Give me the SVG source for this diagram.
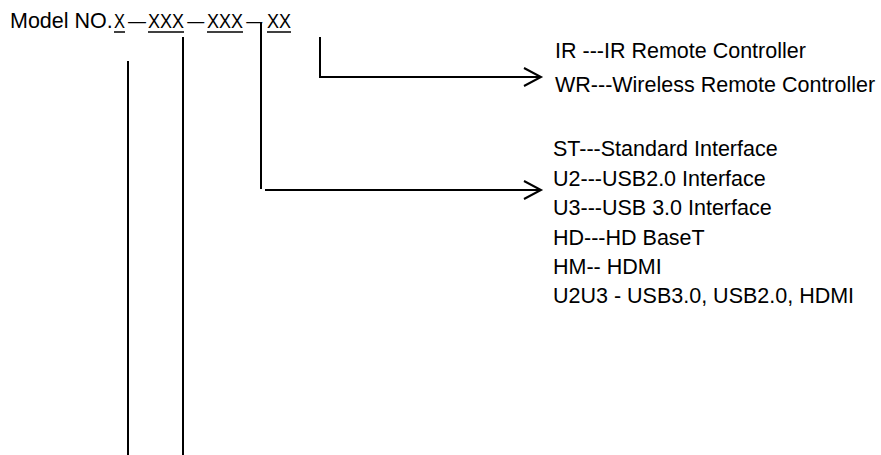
<svg xmlns="http://www.w3.org/2000/svg" width="881" height="455" viewBox="0 0 881 455">
<style>
text{font-family:"Liberation Sans",Arial,sans-serif;font-size:21.5px;fill:#000}
.x{font-size:19.5px}
.ln{stroke:#000;stroke-width:2;fill:none}
.ul{stroke:#000;stroke-width:1.5}
</style>
<defs>
<marker id="arr" markerUnits="userSpaceOnUse" markerWidth="24" markerHeight="24" viewBox="-20 -12 24 24" refX="0" refY="0" orient="auto">
<path d="M-17,-9 L0,0 L-17,9" fill="none" stroke="#000" stroke-width="2"/>
</marker>
</defs>
<rect width="881" height="455" fill="#fff"/>
<g id="title">
<text y="28"><tspan x="10">Model NO.</tspan><tspan class="x" x="114" textLength="11" lengthAdjust="spacingAndGlyphs">X</tspan><tspan class="x" x="128" textLength="18" lengthAdjust="spacingAndGlyphs">—</tspan><tspan class="x" x="148" textLength="36" lengthAdjust="spacingAndGlyphs">XXX</tspan><tspan class="x" x="187.3" textLength="17" lengthAdjust="spacingAndGlyphs">—</tspan><tspan class="x" x="207" textLength="36" lengthAdjust="spacingAndGlyphs">XXX</tspan><tspan class="x" x="246.2" textLength="16" lengthAdjust="spacingAndGlyphs">—</tspan><tspan class="x" x="267" textLength="24" lengthAdjust="spacingAndGlyphs">XX</tspan></text>
<line class="ul" x1="114" y1="32" x2="125" y2="32"/>
<line class="ul" x1="148" y1="32" x2="184" y2="32"/>
<line class="ul" x1="207" y1="32" x2="243" y2="32"/>
<line class="ul" x1="267" y1="32" x2="291" y2="32"/>
</g>
<g id="remote">
<text x="555" y="58">IR ---IR Remote Controller</text>
<text x="555" y="92">WR---Wireless Remote Controller</text>
</g>
<g id="interface">
<text x="553" y="156">ST---Standard Interface</text>
<text x="553" y="186">U2---USB2.0 Interface</text>
<text x="553" y="215">U3---USB 3.0 Interface</text>
<text x="553" y="245">HD---HD BaseT</text>
<text x="553" y="274">HM-- HDMI</text>
<text x="553" y="303">U2U3 - USB3.0, USB2.0, HDMI</text>
</g>
<g id="connectors">
<line class="ln" x1="128" y1="61" x2="128" y2="455"/>
<line class="ln" x1="183" y1="37" x2="183" y2="455"/>
<path class="ln" d="M261,23 V189"/>
<path class="ln" d="M265,190 H541" marker-end="url(#arr)"/>
<path class="ln" d="M320,37 V77 H541" marker-end="url(#arr)"/>
</g>
</svg>
